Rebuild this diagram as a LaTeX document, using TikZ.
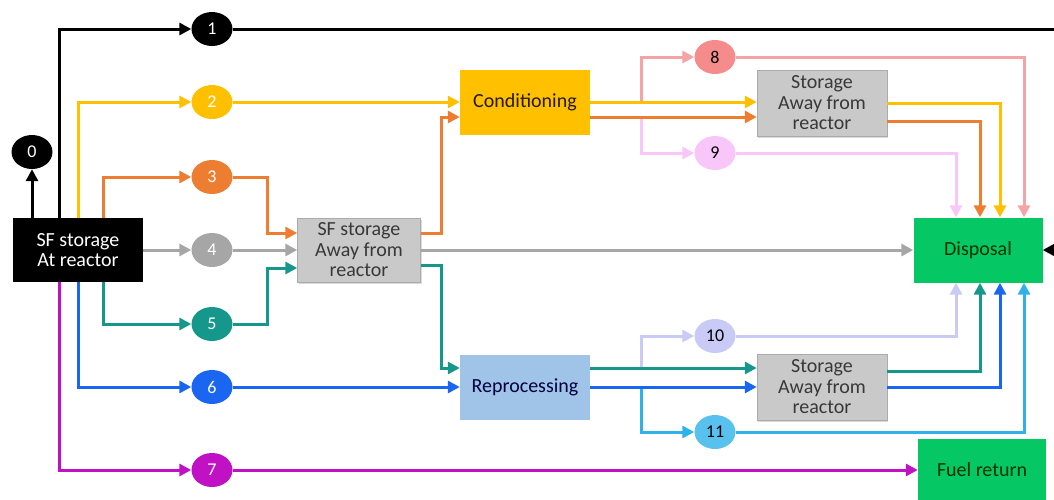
\documentclass[tikz,border=0pt]{standalone}
\usepackage{fontspec}
\setmainfont{Carlito}
\usetikzlibrary{arrows.meta,shapes.geometric,shadows}

\definecolor{cBlack}{HTML}{000000}
\definecolor{cYellow}{HTML}{FFC000}
\definecolor{cOrange}{HTML}{ED7D31}
\definecolor{cGray}{HTML}{A6A6A6}
\definecolor{cTeal}{HTML}{16978C}
\definecolor{cBlue}{HTML}{1A66F0}
\definecolor{cMagenta}{HTML}{C011C4}
\definecolor{cSalmon}{HTML}{F4A4A4}
\definecolor{cPink}{HTML}{F8C6F8}
\definecolor{cLavender}{HTML}{CACAF6}
\definecolor{cSky}{HTML}{2FB2EA}
\definecolor{boxGray}{HTML}{C9C9C9}
\definecolor{reproFill}{HTML}{9FC4E7}
\definecolor{greenFill}{HTML}{05C764}

\begin{document}
\begin{tikzpicture}[
    x=1pt, y=-1pt,
    box/.style={rectangle, minimum width=130pt, minimum height=65pt, inner sep=2pt, align=center, font=\fontsize{20}{20.5}\selectfont},
    graybox/.style={box, fill=boxGray, draw=boxGray!85!black, line width=0.5pt, text=black!78,
        drop shadow={shadow xshift=1pt, shadow yshift=-1.5pt, opacity=0.3}},
    num/.style={ellipse, minimum width=41pt, minimum height=34pt, inner sep=0pt, font=\fontsize{18}{18}\selectfont},
    flow/.style={line width=3pt, -{Triangle[length=12pt, width=12pt]}},
    tap/.style={line width=3pt}
]
\useasboundingbox (0,0) rectangle (1054,499);

% main boxes
\node[box, fill=black, text=white, minimum height=64pt] (reactor) at (78,250) {SF storage\\At reactor};
\node[graybox, minimum width=123pt, minimum height=64pt] (sfaway) at (359,250) {SF storage\\Away from\\reactor};
\node[box, fill=cYellow, text=black!80!brown] (cond) at (525,102) {Conditioning};
\node[box, fill=reproFill, text=black!75!blue] (repro) at (525,387) {Reprocessing};
\node[graybox, minimum height=66pt] (store1) at (822,103) {Storage\\Away from\\reactor};
\node[graybox, minimum height=66pt] (store2) at (822,387) {Storage\\Away from\\reactor};
\node[box, fill=greenFill, text=black!80!green, minimum width=129pt] (disp) at (978,250) {Disposal};
\node[box, fill=greenFill, text=black!80!green, minimum width=128pt, minimum height=62pt] (fuel) at (982,470) {Fuel return};

% route numbers
\node[num, fill=black, text=white] (n0) at (32,152) {0};
\node[num, fill=black, text=white] (n1) at (212,29) {1};
\node[num, fill=cYellow, text=white] (n2) at (212,102) {2};
\node[num, fill=cOrange, text=white] (n3) at (212,177) {3};
\node[num, fill=cGray, text=white] (n4) at (212,250) {4};
\node[num, fill=cTeal, text=white] (n5) at (212,324) {5};
\node[num, fill=cBlue, text=white] (n6) at (212,387) {6};
\node[num, fill=cMagenta, text=white] (n7) at (212,470) {7};
\node[num, fill=cSalmon!85!red] (n8) at (715,57) {8};
\node[num, fill=cPink] (n9) at (715,153) {9};
\node[num, fill=cLavender] (n10) at (715,336) {10};
\node[num, fill=cSky!80!white] (n11) at (715,432) {11};

\coordinate (tapY) at (641,102);
\coordinate (tapO) at (641,117);
\coordinate (tapT) at (641,368);
\coordinate (tapB) at (641,387);
\coordinate (offr) at (1064,29);

% branches after conditioning / reprocessing
\draw[flow, cSalmon] (tapY) |- (n8);
\draw[flow, cPink] (tapO) |- (n9);
\draw[flow, cLavender] (tapT) |- (n10);
\draw[flow, cSky] (tapB) |- (n11);

% from the reactor store
\draw[flow, cBlack] (reactor.north -| n0) -- (n0);
\draw[flow, cBlack] (reactor.north -| 59,0) |- (n1);
\draw[flow, cBlack] (n1) -- (offr) |- (disp.east);
\draw[flow, cYellow] (reactor.north -| 78,0) |- (n2);
\draw[flow, cOrange] (reactor.north -| 103,0) |- (n3);
\draw[flow, cGray] (reactor) -- (n4);
\draw[flow, cTeal] (reactor.south -| 103,0) |- (n5);
\draw[flow, cBlue] (reactor.south -| 78,0) |- (n6);
\draw[flow, cMagenta] (reactor.south -| 59,0) |- (n7);

\draw[flow, cYellow] (n2) -- (cond.west |- n2);
\draw[flow, cOrange] (n3) -- (n3 -| 267,0) |- (sfaway.west |- 0,233);
\draw[flow, cGray] (n4) -- (sfaway);
\draw[flow, cTeal] (n5) -- (n5 -| 267,0) |- (sfaway.west |- 0,268);
\draw[flow, cBlue] (n6) -- (repro);
\draw[flow, cMagenta] (n7) -- (fuel);

% away-from-reactor store
\draw[flow, cOrange] (sfaway.east |- 0,233) -- ++(21,0) |- (cond.west |- 0,117);
\draw[flow, cGray] (sfaway) -- (disp);
\draw[flow, cTeal] (sfaway.east |- 0,265) -- ++(21,0) |- (repro.west |- 0,368);

% conditioning and reprocessing outputs
\draw[flow, cYellow] (cond.east |- n2) -- (store1.west |- n2);
\draw[flow, cOrange] (cond.east |- 0,117) -- (store1.west |- 0,117);
\draw[flow, cTeal] (repro.east |- 0,368) -- (store2.west |- 0,368);
\draw[flow, cBlue] (repro) -- (store2);

% into disposal
\draw[flow, cSalmon] (n8) -| (disp.north -| 1024,0);
\draw[flow, cPink] (n9) -| (disp.north -| 956,0);
\draw[flow, cYellow] (store1.east |- 0,103) -| (disp.north -| 1000,0);
\draw[flow, cOrange] (store1.east |- 0,121) -| (disp.north -| 980,0);
\draw[flow, cLavender] (n10) -| (disp.south -| 956,0);
\draw[flow, cSky] (n11) -| (disp.south -| 1024,0);
\draw[flow, cTeal] (store2.east |- 0,371) -| (disp.south -| 980,0);
\draw[flow, cBlue] (store2) -| (disp.south -| 1000,0);
\end{tikzpicture}
\end{document}
